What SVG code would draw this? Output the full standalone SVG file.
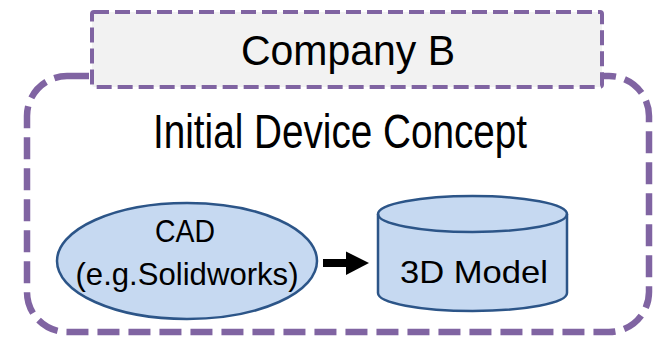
<svg xmlns="http://www.w3.org/2000/svg" width="656" height="338" viewBox="0 0 656 338">
<style>
.t{font-family:"Liberation Sans",Arial,sans-serif;fill:#000;text-anchor:middle}
.shape{fill:#c6d9f1;stroke:#2c5588;stroke-width:2.5}
</style>
<rect width="656" height="338" fill="#fff"/>
<g id="outer">
<rect x="27" y="76" width="622" height="256" rx="40" ry="40" fill="none" stroke="#8064a2" stroke-width="6.5" stroke-dasharray="22 9"/>
<text class="t" x="340" y="148" font-size="48" textLength="374" lengthAdjust="spacingAndGlyphs">Initial Device Concept</text>
</g>
<g id="companyB">
<rect x="92" y="12" width="510" height="75" rx="2" fill="#f2f2f2" stroke="#8064a2" stroke-width="4" stroke-dasharray="15 6"/>
<text class="t" x="348" y="65" font-size="42" textLength="214" lengthAdjust="spacingAndGlyphs">Company B</text>
</g>
<g id="cad">
<ellipse class="shape" cx="187" cy="261" rx="130" ry="58"/>
<text class="t" x="185" y="242" font-size="32" textLength="60" lengthAdjust="spacingAndGlyphs">CAD</text>
<text class="t" x="187" y="285" font-size="32" textLength="223" lengthAdjust="spacingAndGlyphs">(e.g.Solidworks)</text>
</g>
<g id="model3d">
<path class="shape" d="M378,214 A94.5,18 0 0 1 567,214 L567,293 A94.5,18 0 0 1 378,293 Z"/>
<path d="M378,214 A94.5,18 0 0 0 567,214" fill="none" stroke="#2c5588" stroke-width="2.5"/>
<text class="t" x="474" y="283" font-size="32" textLength="148" lengthAdjust="spacingAndGlyphs">3D Model</text>
</g>
<g id="connectors">
<line x1="323" y1="263" x2="347" y2="263" stroke="#000" stroke-width="8"/>
<path d="M346,251.5 L369,263 L346,275 Z" fill="#000"/>
</g>
</svg>
